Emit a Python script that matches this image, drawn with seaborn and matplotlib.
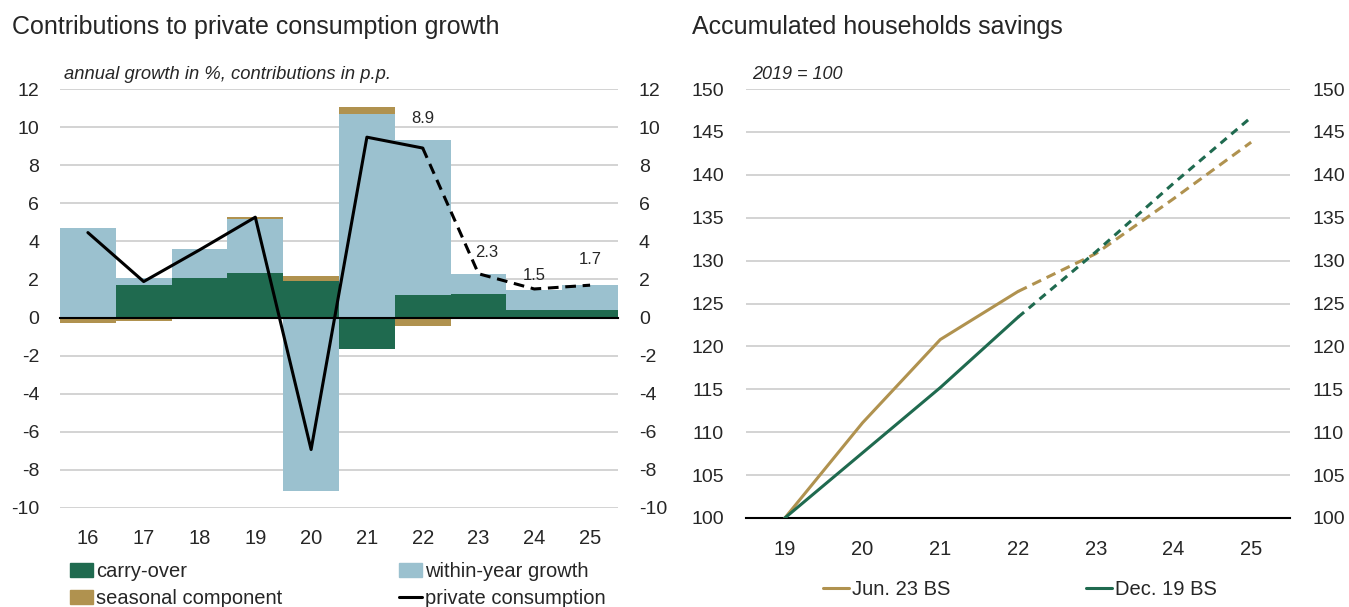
import numpy as np
import pandas as pd
import matplotlib
matplotlib.use('Agg')
import matplotlib.pyplot as plt
import seaborn as sns
from matplotlib.patches import Patch
from matplotlib.lines import Line2D

# --- data: contributions to private consumption growth ---
years_left = ['16', '17', '18', '19', '20', '21', '22', '23', '24', '25']
carry_over = [-0.1, 1.72, 2.06, 2.36, 1.94, -1.63, 1.19, 1.22, 0.42, 0.37]
within_year = [4.72, 0.38, 1.55, 2.84, -9.12, 10.7, 8.14, 1.07, 1.03, 1.34]
seasonal = [-0.2, -0.19, -0.1, 0.07, 0.25, 0.38, -0.44, 0.0, 0.0, 0.0]
private_cons = [4.46, 1.89, 3.55, 5.27, -6.93, 9.47, 8.9, 2.3, 1.5, 1.7]
last_actual_left = '22'
# label offsets (points) for the forecast values
label_dx = [0, 6, 0, 0]
label_dy = [16, 10, 4, 13]

# --- data: accumulated households savings (2019 = 100) ---
years_right = ['19', '20', '21', '22', '23', '24', '25']
jun23_bs = [100, 111.1, 120.8, 126.4, 130.8, 137.2, 143.8]
dec19_bs = [100, 107.6, 115.2, 123.4, 131.0, 139.0, 146.7]
last_actual_right = '22'

GREEN = '#1f6a4f'
BLUE = '#9bc1cf'
GOLD = '#b0924f'
GRID = '#cccccc'

sns.set_theme(style='white')
plt.rcParams['font.family'] = ['Liberation Sans', 'DejaVu Sans']
plt.rcParams['axes.unicode_minus'] = False

fig = plt.figure(figsize=(13.49, 6.07), dpi=100)
W, H = 1349, 607
ax1 = fig.add_axes([60 / W, (H - 508) / H, 558 / W, 419 / H])
ax2 = fig.add_axes([746 / W, (H - 518) / H, 544 / W, 429 / H])

# ---------------- left chart ----------------
xpos = np.arange(len(years_left))
pos_base = np.zeros(len(years_left))
neg_base = np.zeros(len(years_left))
for vals, col in [(carry_over, GREEN), (within_year, BLUE), (seasonal, GOLD)]:
    v = np.array(vals)
    bottom = np.where(v >= 0, pos_base, neg_base)
    ax1.bar(xpos, v, bottom=bottom, width=1.0, color=col, linewidth=0, zorder=2)
    pos_base = pos_base + np.clip(v, 0, None)
    neg_base = neg_base + np.clip(v, None, 0)

df_l = pd.DataFrame({'x': xpos, 'year': years_left, 'pc': private_cons})
cut = years_left.index(last_actual_left)
sns.lineplot(data=df_l.iloc[:cut + 1], x='x', y='pc', ax=ax1, color='black', lw=2.2, zorder=4)
sns.lineplot(data=df_l.iloc[cut:], x='x', y='pc', ax=ax1, color='black', lw=2.2,
             linestyle=(0, (3.5, 2.2)), zorder=4)
for k, i in enumerate(range(cut, len(years_left))):
    ax1.annotate(f'{private_cons[i]:.1f}', (xpos[i], private_cons[i]),
                 xytext=(label_dx[k], label_dy[k]), textcoords='offset points',
                 ha='center', va='bottom', fontsize=12)

ax1.set_xlim(-0.5, len(years_left) - 0.5)
ax1.set_ylim(-10, 12)
ax1.set_yticks(np.arange(-10, 13, 2))
for t in np.arange(-10, 13, 2):
    if t != 0:
        ax1.axhline(t, color=GRID, lw=1.2, zorder=0)
for s in ['top', 'left', 'right']:
    ax1.spines[s].set_visible(False)
ax1.spines['bottom'].set_position(('data', 0))
ax1.spines['bottom'].set_color('black')
ax1.spines['bottom'].set_linewidth(1.5)
ax1.spines['bottom'].set_zorder(3)
ax1.set_xticks(np.arange(-0.5, len(years_left), 1.0))
ax1.tick_params(axis='x', length=6, width=1, color='black', labelbottom=False, direction='out')
ax1.tick_params(axis='y', length=0, labelleft=True, labelright=True, labelsize=14, pad=15)
sec1 = ax1.secondary_xaxis(0.0)
sec1.set_xticks(xpos, years_left)
sec1.tick_params(length=0, labelsize=14.5, pad=15)
sec1.spines['bottom'].set_visible(False)
ax1.set_xlabel('')
ax1.set_ylabel('')
ax1.text(0.007, 1.014, 'annual growth in %, contributions in p.p.', transform=ax1.transAxes,
         style='italic', fontsize=13.2, va='bottom')

# ---------------- right chart ----------------
df_r = pd.DataFrame({'x': np.arange(len(years_right)), 'jun': jun23_bs, 'dec': dec19_bs})
cut_r = years_right.index(last_actual_right)
for col, c, dash in [('jun', GOLD, (0, (3.2, 2.0))), ('dec', GREEN, (0, (2.6, 2.0)))]:
    sns.lineplot(data=df_r.iloc[:cut_r + 1], x='x', y=col, ax=ax2, color=c, lw=2.2, zorder=3)
    sns.lineplot(data=df_r.iloc[cut_r:], x='x', y=col, ax=ax2, color=c, lw=2.2,
                 linestyle=dash, zorder=3)
ax2.set_xlim(-0.5, len(years_right) - 0.5)
ax2.set_ylim(100, 150)
ax2.set_yticks(np.arange(100, 151, 5))
for t in np.arange(105, 151, 5):
    ax2.axhline(t, color=GRID, lw=1.2, zorder=0)
for s in ['top', 'left', 'right']:
    ax2.spines[s].set_visible(False)
ax2.spines['bottom'].set_color('black')
ax2.spines['bottom'].set_linewidth(1.5)
ax2.set_xticks(np.arange(-0.5, len(years_right), 1.0))
ax2.tick_params(axis='x', length=6, width=1, color='black', labelbottom=False, direction='out')
ax2.tick_params(axis='y', length=0, labelleft=True, labelright=True, labelsize=14, pad=16)
sec2 = ax2.secondary_xaxis(0.0)
sec2.set_xticks(np.arange(len(years_right)), years_right)
sec2.tick_params(length=0, labelsize=14.5, pad=16)
sec2.spines['bottom'].set_visible(False)
ax2.set_xlabel('')
ax2.set_ylabel('')
ax2.text(0.012, 1.014, '2019 = 100', transform=ax2.transAxes,
         style='italic', fontsize=13, va='bottom')

# ---------------- titles & legends ----------------
fig.text(12 / W, 1 - 27 / H, 'Contributions to private consumption growth', fontsize=18, va='center')
fig.text(692 / W, 1 - 27 / H, 'Accumulated households savings', fontsize=18, va='center')

h_left = [Patch(color=GREEN, label='carry-over'),
          Patch(color=GOLD, label='seasonal component'),
          Patch(color=BLUE, label='within-year growth'),
          Line2D([], [], color='black', lw=2.2, label='private consumption')]
fig.legend(handles=h_left, ncol=2, loc='upper left', bbox_to_anchor=(70 / W, 1 - 562 / H),
           frameon=False, prop={'size': 14.5}, handlelength=1.15,
           handleheight=0.75, handletextpad=0.15, columnspacing=5.8, labelspacing=0.4,
           borderpad=0, borderaxespad=0)

h_right = [Line2D([], [], color=GOLD, lw=2.2, label='Jun. 23 BS'),
           Line2D([], [], color=GREEN, lw=2.2, label='Dec. 19 BS')]
fig.legend(handles=h_right, ncol=2, loc='upper left', bbox_to_anchor=(823 / W, 1 - 580 / H),
           frameon=False, prop={'size': 14.5}, handlelength=1.3,
           handletextpad=0.15, columnspacing=6.7, borderpad=0, borderaxespad=0)

fig.savefig('out.png', dpi=100)
